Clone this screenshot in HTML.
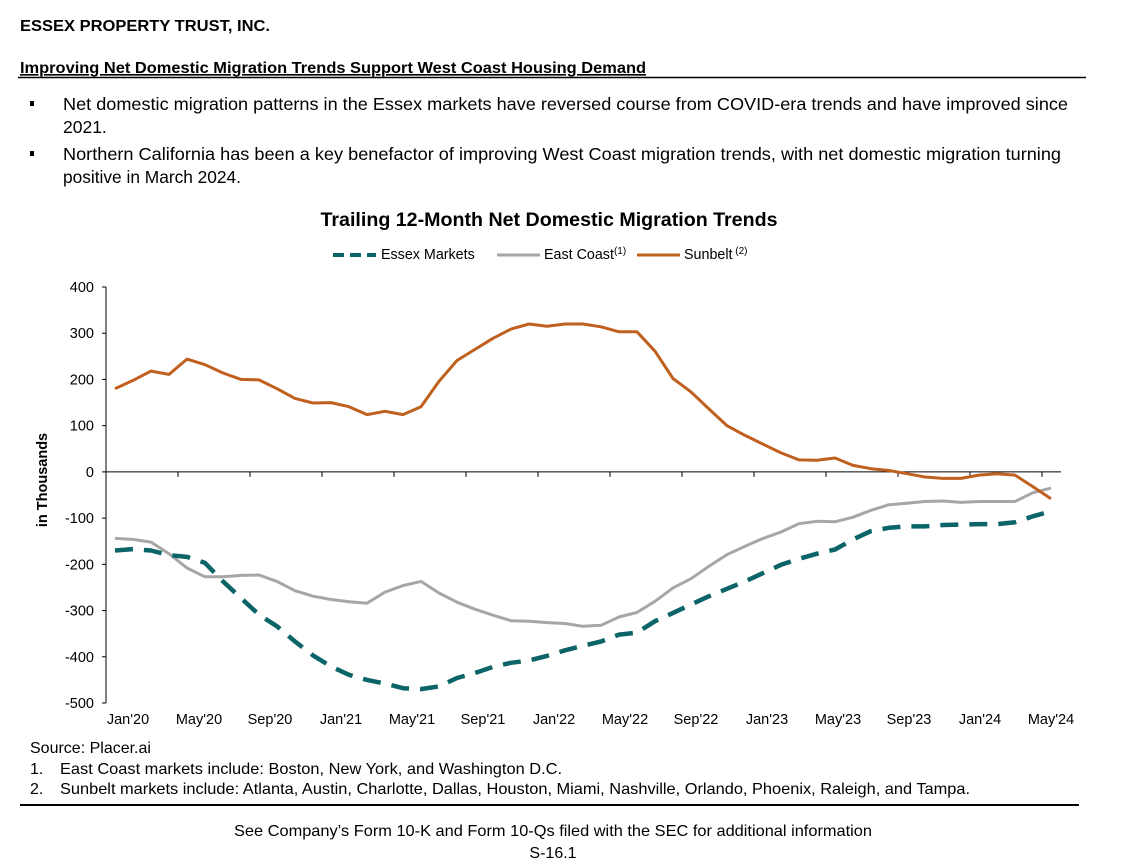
<!DOCTYPE html>
<html><head><meta charset="utf-8"><style>
html,body{margin:0;padding:0;background:#fff;}
svg{display:block;font-family:"Liberation Sans",Arial,sans-serif;}
</style></head><body>
<svg id="page" width="1124" height="865" viewBox="0 0 1124 865">
<text x="20" y="31" font-size="16" font-weight="bold" fill="#000" textLength="250" lengthAdjust="spacingAndGlyphs">ESSEX PROPERTY TRUST, INC.</text>
<text x="20" y="73" font-size="16" font-weight="bold" fill="#000" text-decoration="underline" textLength="626" lengthAdjust="spacingAndGlyphs">Improving Net Domestic Migration Trends Support West Coast Housing Demand</text>
<line x1="18" y1="77.5" x2="1086" y2="77.5" stroke="#000" stroke-width="1.5"/>
<g font-size="17.5" fill="#000">
<rect x="30" y="101" width="4" height="5" fill="#000"/>
<text x="63" y="110" textLength="1005" lengthAdjust="spacingAndGlyphs">Net domestic migration patterns in the Essex markets have reversed course from COVID-era trends and have improved since</text>
<text x="63" y="133">2021.</text>
<rect x="30" y="151" width="4" height="5" fill="#000"/>
<text x="63" y="160" textLength="998" lengthAdjust="spacingAndGlyphs">Northern California has been a key benefactor of improving West Coast migration trends, with net domestic migration turning</text>
<text x="63" y="183" textLength="178" lengthAdjust="spacingAndGlyphs">positive in March 2024.</text>
</g>
<text x="549" y="226" font-size="19.5" font-weight="bold" text-anchor="middle" textLength="457" lengthAdjust="spacingAndGlyphs">Trailing 12-Month Net Domestic Migration Trends</text>
<g font-size="14.3">
<g><line x1="333" y1="255" x2="376" y2="255" stroke="#0b6467" stroke-width="4" stroke-dasharray="11,6"/><text x="381" y="259">Essex Markets</text></g>
<g><line x1="497" y1="255" x2="540" y2="255" stroke="#a6a6a6" stroke-width="3"/><text x="544" y="259">East Coast<tspan font-size="10" dy="-5">(1)</tspan></text></g>
<g><line x1="637" y1="255" x2="680" y2="255" stroke="#c0601f" stroke-width="3"/><text x="684" y="259">Sunbelt<tspan font-size="10" dy="-5"> (2)</tspan></text></g>
</g>
<text transform="translate(47,480) rotate(-90)" font-size="14.5" font-weight="bold" text-anchor="middle">in Thousands</text>
<g id="axes"></g>
<g id="series"></g>
<g font-size="16" fill="#000">
<text x="30" y="753">Source: Placer.ai</text>
<text x="30" y="774">1.</text>
<text x="60" y="774" textLength="502" lengthAdjust="spacingAndGlyphs">East Coast markets include: Boston, New York, and Washington D.C.</text>
<text x="30" y="794">2.</text>
<text x="60" y="794" textLength="910" lengthAdjust="spacingAndGlyphs">Sunbelt markets include: Atlanta, Austin, Charlotte, Dallas, Houston, Miami, Nashville, Orlando, Phoenix, Raleigh, and Tampa.</text>
</g>
<line x1="20" y1="805" x2="1079" y2="805" stroke="#000" stroke-width="2"/>
<text x="553" y="836" font-size="16" text-anchor="middle" textLength="638" lengthAdjust="spacingAndGlyphs">See Company’s Form 10-K and Form 10-Qs filed with the SEC for additional information</text>
<text x="553" y="858" font-size="16" text-anchor="middle">S-16.1</text>
</svg>
<script>
const monthLabels = ["Jan'20","May'20","Sep'20","Jan'21","May'21","Sep'21","Jan'22","May'22","Sep'22","Jan'23","May'23","Sep'23","Jan'24","May'24"];
const yTicks = [400,300,200,100,0,-100,-200,-300,-400,-500];
const sunbelt = [180,198,218,211,244,232,214,200,199,180,159,149,150,141,124,131,124,141,196,241,265,289,309,320,315,320,320,314,303,303,261,202,173,136,100,79,60,41,26,25,30,14,7,3,-4,-11,-14,-14,-7,-4,-7,-32,-58];
const essex = [-170,-167,-170,-180,-184,-197,-237,-273,-309,-334,-367,-397,-421,-439,-450,-458,-468,-470,-464,-446,-435,-422,-413,-408,-398,-386,-376,-367,-352,-348,-323,-305,-287,-269,-253,-237,-219,-201,-188,-177,-168,-146,-128,-121,-118,-118,-115,-114,-113,-113,-109,-96,-85];
const eastCoast = [-144,-146,-152,-177,-208,-227,-227,-224,-223,-237,-257,-269,-276,-281,-284,-260,-246,-237,-262,-282,-297,-310,-322,-323,-326,-328,-334,-332,-314,-304,-280,-251,-231,-204,-179,-161,-144,-130,-112,-107,-108,-98,-83,-71,-68,-64,-63,-66,-64,-64,-64,-45,-35];

const NS="http://www.w3.org/2000/svg";
const X0=106, STEP=18, Y400=287, YM500=703;
function xPos(i){return X0+STEP*(i+0.5);}
function yPos(v){return Y400+(400-v)*(YM500-Y400)/900;}
function mk(tag,attrs,parent){const e=document.createElementNS(NS,tag);for(const k in attrs)e.setAttribute(k,attrs[k]);parent.appendChild(e);return e;}
const axes=document.getElementById('axes');
const nMonths=sunbelt.length;
const axisLine=mk('line',{x1:X0,y1:yPos(400),x2:X0,y2:yPos(-500),stroke:'#000','stroke-width':1},axes);


yTicks.forEach(v=>{
  const t=mk('line',{x1:X0-4,y1:yPos(v),x2:X0,y2:yPos(v),stroke:'#000','stroke-width':1},axes);
  
  
  const l=mk('text',{x:X0-12,y:yPos(v)+5,'font-size':14.5,'text-anchor':'end'},axes);
  l.textContent=v;
  
  
});
const xEnd=X0+STEP*nMonths+1;
const zl=mk('line',{x1:X0,y1:yPos(0),x2:xEnd,y2:yPos(0),stroke:'#000','stroke-width':1},axes);


for(let k=1;k*4<=nMonths;k++){
  const tx=X0+STEP*4*k;
  const t=mk('line',{x1:tx,y1:yPos(0),x2:tx,y2:yPos(0)+5,stroke:'#000','stroke-width':1},axes);
  
  
}
const labelStart=xPos(0)+13, labelEnd=xPos(nMonths-1);
monthLabels.forEach((m,k)=>{
  const lx=labelStart+(labelEnd-labelStart)*k/(monthLabels.length-1);
  const l=mk('text',{x:lx,y:724,'font-size':14.5,'text-anchor':'middle'},axes);
  l.textContent=m;
  
  
});
const series=document.getElementById('series');
function draw(data,attrs,name){
  const d=data.map((v,i)=>(i?'L':'M')+xPos(i).toFixed(1)+','+yPos(v).toFixed(1)).join('');
  const p=mk('path',Object.assign({d:d,fill:'none','stroke-linejoin':'round'},attrs),series);
  
  
}
draw(eastCoast,{stroke:'#a6a6a6','stroke-width':3},'east-coast-line');
draw(sunbelt,{stroke:'#c0601f','stroke-width':3},'sunbelt-line');
draw(essex,{stroke:'#0b6467','stroke-width':4.5,'stroke-dasharray':'18,11'},'essex-markets-line');
</script>
</body></html>
